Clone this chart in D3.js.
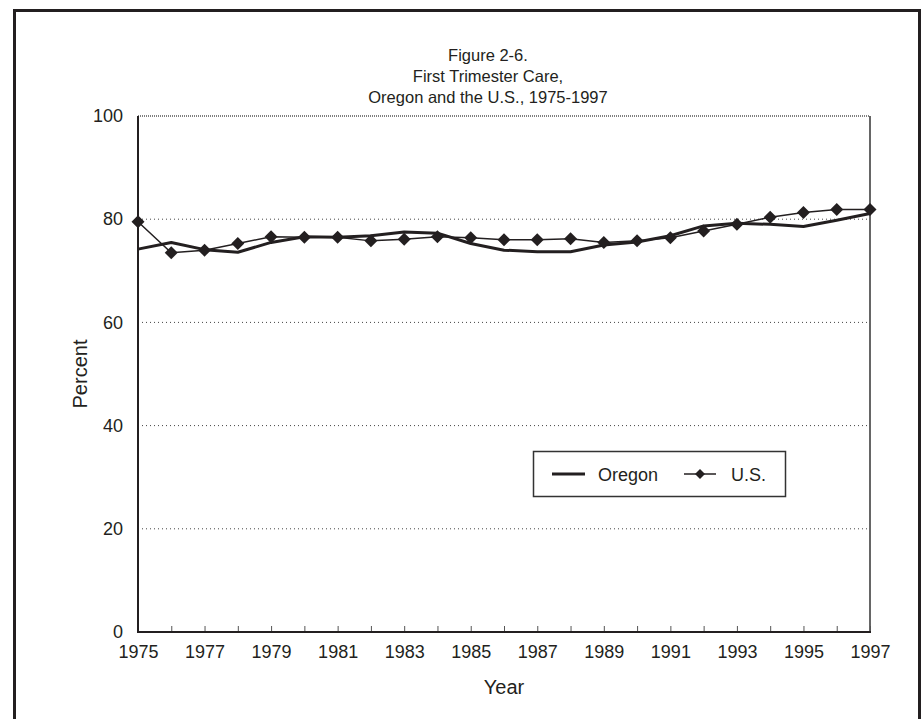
<!DOCTYPE html>
<html>
<head>
<meta charset="utf-8">
<script src="https://cdn.jsdelivr.net/npm/d3@7"></script>
<style>
  html, body { margin: 0; padding: 0; background: #fff; }
  svg { display: block; }
  text { font-family: "Liberation Sans", Arial, sans-serif; fill: #231f20; }
</style>
</head>
<body>
<svg id="chart" width="924" height="719"></svg>
<script>
const years = d3.range(1975, 1998);
const oregon = [74.2, 75.5, 74.1, 73.6, 75.5, 76.6, 76.5, 76.8, 77.5, 77.3, 75.3, 74.0, 73.7, 73.7, 75.0, 75.6, 76.8, 78.7, 79.2, 79.0, 78.6, 79.8, 81.1];
const us     = [79.5, 73.5, 74.0, 75.3, 76.6, 76.5, 76.5, 75.8, 76.1, 76.6, 76.4, 76.0, 76.0, 76.2, 75.5, 75.8, 76.4, 77.7, 79.0, 80.4, 81.3, 81.9, 81.9];
const yTicks = [0, 20, 40, 60, 80, 100];
const xTickLabels = [1975, 1977, 1979, 1981, 1983, 1985, 1987, 1989, 1991, 1993, 1995, 1997];
const titleLines = ["Figure 2-6.", "First Trimester Care,", "Oregon and the U.S., 1975-1997"];
const seriesNames = ["Oregon", "U.S."];

(function () {
const svg = d3.select("#chart");
const ink = "#231f20";
const FONT = "Liberation Sans, Arial, sans-serif";

// outer frame
svg.append("rect").attr("x", 14.5).attr("y", 10.5).attr("width", 905).attr("height", 720)
  .attr("fill", "none").attr("stroke", ink).attr("stroke-width", 3);

const pL = 138, pR = 870, pT = 116, pB = 632;
const x = d3.scaleLinear().domain([1975, 1997]).range([pL, pR]);
const y = d3.scaleLinear().domain([0, 100]).range([pB, pT]);

// title
svg.append("g").selectAll("text").data(titleLines).join("text")
  .attr("x", 488).attr("y", (d, i) => 61 + i * 21)
  .attr("text-anchor", "middle").attr("font-size", 16.5).text(d => d);

// gridlines
svg.append("g").selectAll("line").data(yTicks.filter(v => v > 0 && v < 100)).join("line")
  .attr("x1", pL).attr("x2", pR).attr("y1", d => y(d)).attr("y2", d => y(d))
  .attr("stroke", "#444").attr("stroke-width", 1).attr("stroke-dasharray", "1,3");
// top line (dense dotted)
svg.append("line").attr("x1", pL).attr("x2", pR).attr("y1", y(100)).attr("y2", y(100))
  .attr("stroke", "#555").attr("stroke-width", 1.5).attr("stroke-dasharray", "1,1");
// right border
svg.append("line").attr("x1", pR).attr("x2", pR).attr("y1", y(100)).attr("y2", y(0))
  .attr("stroke", "#666").attr("stroke-width", 2);

// x axis
const xAxis = d3.axisBottom(x).tickValues(years).tickSize(-6)
  .tickFormat(d => xTickLabels.includes(d) ? String(d) : "");
const gx = svg.append("g").attr("transform", `translate(0,${pB})`).call(xAxis);
gx.select(".domain").remove();
gx.selectAll(".tick line").attr("stroke", "#555").attr("stroke-width", 1);
gx.selectAll(".tick text").attr("font-size", 18).attr("font-family", FONT)
  .attr("fill", ink).attr("dy", 0).attr("y", 26);

// y axis labels
const yAxis = d3.axisLeft(y).tickValues(yTicks).tickSize(0).tickPadding(15);
const gy = svg.append("g").attr("transform", `translate(${pL},0)`).call(yAxis);
gy.select(".domain").remove();
gy.selectAll(".tick text").attr("font-size", 18).attr("font-family", FONT).attr("fill", ink);

// axis lines
svg.append("line").attr("x1", pL).attr("x2", pL).attr("y1", y(100)).attr("y2", y(0))
  .attr("stroke", ink).attr("stroke-width", 2);
svg.append("line").attr("x1", pL - 1).attr("x2", pR + 1).attr("y1", y(0)).attr("y2", y(0))
  .attr("stroke", ink).attr("stroke-width", 2);

// axis titles
svg.append("text").attr("x", 504).attr("y", 694).attr("text-anchor", "middle").attr("font-size", 20).text("Year");
svg.append("text").attr("transform", `translate(87,${(pT + pB) / 2}) rotate(-90)`)
  .attr("text-anchor", "middle").attr("font-size", 20).text("Percent");

// lines
const line = d3.line().x((d, i) => x(years[i])).y(d => y(d));
svg.append("path").datum(us).attr("d", line).attr("fill", "none").attr("stroke", ink).attr("stroke-width", 1.5);
svg.append("path").datum(oregon).attr("d", line).attr("fill", "none").attr("stroke", ink).attr("stroke-width", 3)
  .attr("stroke-linejoin", "round");

const diamond = r => `M0,${-r}L${r},0L0,${r}L${-r},0Z`;
svg.append("g").selectAll("path").data(us).join("path")
  .attr("transform", (d, i) => `translate(${x(years[i])},${y(d)})`)
  .attr("d", diamond(6.5)).attr("fill", ink);

// legend
const lg = svg.append("g");
lg.append("rect").attr("x", 533.5).attr("y", 451.5).attr("width", 252).attr("height", 45)
  .attr("fill", "#fff").attr("stroke", "#333").attr("stroke-width", 1.5);
lg.append("line").attr("x1", 552).attr("x2", 585).attr("y1", 474).attr("y2", 474).attr("stroke", ink).attr("stroke-width", 3);
lg.append("text").attr("x", 598).attr("y", 481).attr("font-size", 18).text(seriesNames[0]);
lg.append("line").attr("x1", 684).attr("x2", 716).attr("y1", 474).attr("y2", 474).attr("stroke", ink).attr("stroke-width", 1.5);
lg.append("path").attr("transform", "translate(700,474)").attr("d", diamond(5)).attr("fill", ink);
lg.append("text").attr("x", 731).attr("y", 481).attr("font-size", 18).text(seriesNames[1]);
})();
</script>
</body>
</html>
